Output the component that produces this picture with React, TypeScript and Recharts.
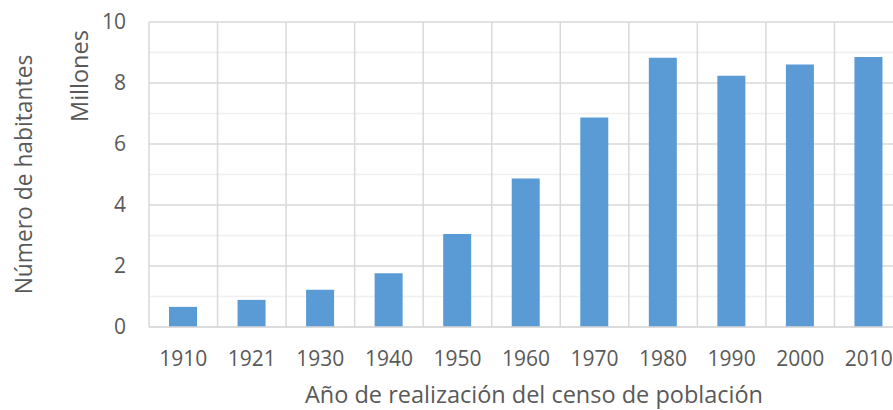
import React from 'react';
import { BarChart, Bar, XAxis, YAxis, CartesianGrid } from 'recharts';

const years = ['1910', '1921', '1930', '1940', '1950', '1960', '1970', '1980', '1990', '2000', '2010'];
const millones = [0.66, 0.89, 1.22, 1.76, 3.05, 4.87, 6.87, 8.83, 8.24, 8.61, 8.85];
const majorTicks = [0, 2, 4, 6, 8, 10];
const minorTicks = [1, 3, 5, 7, 9];

const data = years.map((y, i) => ({ year: y, value: millones[i] }));

const FONT = '"Open Sans", sans-serif';
const GREY = '#595959';

const YLabel = (props: any) => {
  const vb = props.viewBox || {};
  const mx = 79;
  const my = vb.y + 54;
  const nx = 23;
  const ny = vb.y + vb.height / 2;
  return (
    <g>
      <text x={mx} y={my} transform={`rotate(-90, ${mx}, ${my})`} textAnchor="middle" dominantBaseline="central" fill={GREY} fontSize={23.5} fontFamily={FONT}>Millones</text>
      <text x={nx} y={ny} transform={`rotate(-90, ${nx}, ${ny})`} textAnchor="middle" dominantBaseline="central" fill={GREY} fontSize={22.8} fontFamily={FONT}>Número de habitantes</text>
    </g>
  );
};

const XLabel = (props: any) => {
  const vb = props.viewBox || {};
  return (
    <text x={534} y={vb.y + 67} textAnchor="middle" dominantBaseline="central" fill={GREY} fontSize={23.5} fontFamily={FONT}>
      Año de realización del censo de población
    </text>
  );
};

export default function App() {
  return (
    <div style={{ position: 'absolute', left: 0, top: 0, width: 893, height: 410, overflow: 'hidden', background: '#fff' }}>
      <BarChart width={910} height={410} data={data} margin={{ top: 22, right: 7, bottom: 0, left: 0 }} barCategoryGap="30%">
        <CartesianGrid horizontal={true} vertical={false} horizontalValues={minorTicks} stroke="#f0f0f0" strokeWidth={1.5} />
        <CartesianGrid
          horizontal={true}
          vertical={true}
          stroke="#d9d9d9"
          strokeWidth={1.5}
          verticalCoordinatesGenerator={({ offset }: any) =>
            [...years.map((_, i) => offset.left + (i * offset.width) / years.length), offset.left + offset.width]
          }
        />
        <XAxis
          dataKey="year"
          height={83}
          axisLine={{ stroke: '#d9d9d9', strokeWidth: 1.5 }}
          tickLine={false}
          tickSize={0}
          tickMargin={24}
          tick={{ fill: GREY, fontSize: 21, fontFamily: FONT }}
          interval={0}
          label={{ content: XLabel }}
        />
        <YAxis
          width={149}
          domain={[0, 10]}
          ticks={majorTicks}
          axisLine={false}
          tickLine={false}
          tickSize={0}
          tickMargin={23}
          tick={{ fill: GREY, fontSize: 21, fontFamily: FONT }}
          label={{ content: YLabel }}
        />
        <Bar dataKey="value" fill="#5b9bd5" barSize={28} isAnimationActive={false} />
      </BarChart>
    </div>
  );
}
